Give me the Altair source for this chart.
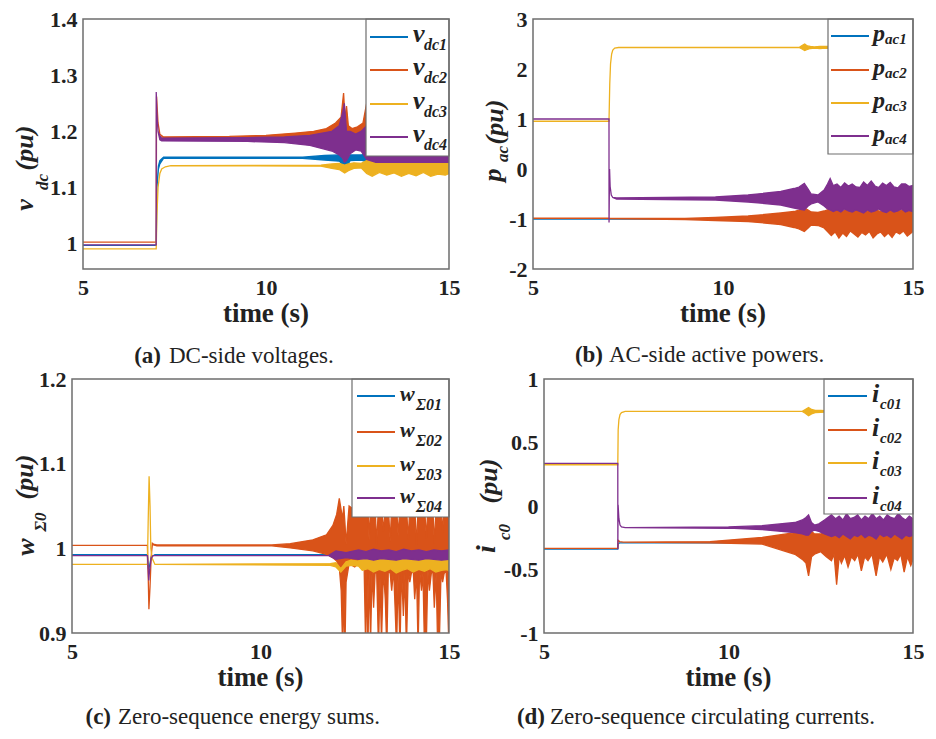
import altair as alt
import pandas as pd

FONT = "Liberation Serif"
INK = "#222222"
FRAME = "#6e6e6e"
COLORS = ["#0072BD", "#D95319", "#EDB120", "#7E2F8E"]

# ---------------- panel (a): DC-side voltages ----------------
A_T1 = [5, 7.0, 7.02, 7.06, 7.1, 7.2, 11.0, 11.6, 12.0, 12.12, 12.2, 12.3, 12.6, 12.8, 13.5, 14.2, 15]
A_LO1 = [0.997, 0.997, 1.10, 1.133, 1.142, 1.152, 1.152, 1.149, 1.147, 1.14, 1.138, 1.148, 1.149, 1.145, 1.146, 1.145, 1.146]
A_HI1 = [0.997, 0.997, 1.10, 1.138, 1.148, 1.154, 1.154, 1.157, 1.158, 1.152, 1.15, 1.158, 1.158, 1.16, 1.158, 1.16, 1.158]

A_T2 = [5, 7.0, 7.01, 7.05, 7.1, 7.2, 9.0, 10.0, 10.8, 11.3, 11.65, 11.9, 12.05, 12.12, 12.16, 12.2, 12.25, 12.35, 12.5, 12.65, 12.75, 13.0, 15]
A_HI2 = [1.003, 1.003, 1.262, 1.215, 1.195, 1.19, 1.191, 1.193, 1.197, 1.2, 1.205, 1.215, 1.225, 1.268, 1.22, 1.245, 1.21, 1.205, 1.208, 1.215, 1.25, 1.24, 1.24]
A_LO2 = [1.003, 1.003, 1.262, 1.215, 1.195, 1.188, 1.187, 1.185, 1.183, 1.18, 1.175, 1.17, 1.16, 1.15, 1.16, 1.16, 1.17, 1.175, 1.17, 1.165, 1.16, 1.155, 1.155]

A_T3 = [5, 7.0, 7.02, 7.05, 7.1, 7.15, 7.25, 7.4, 11.5, 11.8, 12.0, 12.15, 12.25, 12.4, 12.6, 12.75, 12.9, 13.1, 13.3, 13.5, 13.7, 13.9, 14.1, 14.3, 14.5, 14.7, 14.9, 15]
A_HI3 = [0.991, 0.991, 1.05, 1.1, 1.125, 1.133, 1.137, 1.139, 1.14, 1.142, 1.143, 1.14, 1.142, 1.144, 1.143, 1.148, 1.15, 1.147, 1.148, 1.15, 1.149, 1.148, 1.15, 1.149, 1.15, 1.148, 1.149, 1.148]
A_LO3 = [0.991, 0.991, 1.05, 1.1, 1.125, 1.133, 1.137, 1.139, 1.138, 1.134, 1.132, 1.126, 1.13, 1.134, 1.135, 1.125, 1.12, 1.127, 1.122, 1.126, 1.12, 1.125, 1.121, 1.127, 1.12, 1.124, 1.122, 1.125]

A_T4 = [5, 7.0, 7.001, 7.02, 7.05, 7.1, 7.15, 9.5, 10.5, 11.2, 11.8, 12.0, 12.1, 12.14, 12.2, 12.3, 12.45, 12.6, 12.75, 13.0, 14.0, 15]
A_HI4 = [0.998, 0.998, 1.27, 1.23, 1.2, 1.192, 1.188, 1.189, 1.19, 1.193, 1.2, 1.21, 1.235, 1.25, 1.2, 1.2, 1.195, 1.2, 1.21, 1.2, 1.2, 1.2]
A_LO4 = [0.998, 0.998, 1.27, 1.23, 1.2, 1.185, 1.183, 1.182, 1.18, 1.175, 1.165, 1.158, 1.152, 1.145, 1.148, 1.16, 1.167, 1.165, 1.15, 1.145, 1.145, 1.145]

# ---------------- panel (b): AC-side active powers ----------------
B_T1 = [5, 15]
B_LO1 = [-1.0, -1.0]
B_HI1 = [-1.0, -1.0]

B_T2 = [5, 7.0, 7.01, 9.0, 9.8, 10.66, 11.52, 11.87, 12.0, 12.14, 12.24, 12.32, 12.5, 12.66, 12.75, 12.85, 12.95, 13.05, 13.15, 13.25, 13.35, 13.45, 13.55, 13.65, 13.75, 13.85, 13.95, 14.05, 14.15, 14.25, 14.35, 14.45, 14.55, 14.65, 14.75, 14.85, 14.95, 15.0]
B_HI2 = [-0.985, -0.985, -0.99, -0.99, -0.97, -0.94, -0.88, -0.85, -0.82, -0.78, -0.82, -0.86, -0.87, -0.84, -0.82, -0.8, -0.84, -0.82, -0.85, -0.8, -0.83, -0.86, -0.8, -0.84, -0.82, -0.86, -0.8, -0.83, -0.85, -0.82, -0.8, -0.85, -0.82, -0.84, -0.81, -0.85, -0.82, -0.84]
B_LO2 = [-0.985, -0.985, -0.99, -1.01, -1.03, -1.05, -1.11, -1.17, -1.2, -1.25, -1.18, -1.12, -1.13, -1.18, -1.25, -1.33, -1.26, -1.38, -1.28, -1.35, -1.24, -1.3, -1.36, -1.27, -1.32, -1.25, -1.38, -1.3, -1.26, -1.35, -1.28, -1.37, -1.26, -1.3, -1.24, -1.34, -1.28, -1.25]

B_T3 = [5, 7.0, 7.02, 7.04, 7.07, 7.1, 7.15, 7.25, 12.0, 12.08, 12.15, 12.22, 12.3, 12.4, 12.55, 12.7, 12.85, 15.0]
B_HI3 = [0.955, 0.955, 1.7, 2.1, 2.3, 2.38, 2.42, 2.43, 2.43, 2.47, 2.5, 2.46, 2.45, 2.44, 2.45, 2.45, 2.45, 2.44]
B_LO3 = [0.955, 0.955, 1.7, 2.1, 2.3, 2.38, 2.42, 2.43, 2.43, 2.4, 2.37, 2.39, 2.41, 2.42, 2.41, 2.42, 2.41, 2.42]

B_T4 = [5, 7.0, 7.001, 7.015, 7.03, 7.06, 7.1, 7.2, 9.8, 10.66, 11.52, 11.87, 12.0, 12.14, 12.24, 12.32, 12.5, 12.66, 12.75, 12.82, 12.9, 13.0, 13.1, 13.2, 13.3, 13.4, 13.5, 13.6, 13.7, 13.8, 13.9, 14.0, 14.1, 14.2, 14.3, 14.4, 14.5, 14.6, 14.7, 14.8, 14.9, 15.0]
B_HI4 = [1.0, 1.0, -1.07, 0.0, -0.35, -0.52, -0.57, -0.58, -0.56, -0.52, -0.45, -0.39, -0.36, -0.29, -0.4, -0.5, -0.52, -0.42, -0.3, -0.19, -0.33, -0.3, -0.37, -0.28, -0.34, -0.3, -0.36, -0.37, -0.26, -0.33, -0.24, -0.34, -0.37, -0.28, -0.33, -0.27, -0.36, -0.38, -0.3, -0.3, -0.35, -0.33]
B_LO4 = [1.0, 1.0, -1.07, 0.0, -0.35, -0.52, -0.57, -0.6, -0.62, -0.66, -0.72, -0.78, -0.8, -0.82, -0.74, -0.7, -0.66, -0.74, -0.8, -0.82, -0.85, -0.82, -0.86, -0.8, -0.84, -0.86, -0.82, -0.85, -0.88, -0.82, -0.86, -0.84, -0.8, -0.85, -0.87, -0.82, -0.86, -0.84, -0.8, -0.86, -0.83, -0.85]

# ---------------- panel (c): zero-sequence energy sums ----------------
C_T1 = [5, 7.0, 7.03, 7.06, 7.1, 7.2, 15]
C_LO1 = [0.9925, 0.9925, 0.975, 0.98, 0.99, 0.9925, 0.9925]
C_HI1 = [0.9925, 0.9925, 0.975, 0.98, 0.99, 0.9925, 0.9925]

C_T2 = [5, 7.0, 7.02, 7.04, 7.07, 7.1, 7.13, 7.16, 7.25, 10.3, 10.79, 11.39, 11.75, 11.92, 12.02, 12.09, 12.14, 12.18, 12.21, 12.24, 12.27, 12.35, 12.5, 12.65, 12.75,
        12.79, 12.82, 12.85, 12.88, 12.92, 12.96, 13.0, 13.04, 13.08, 13.13, 13.17, 13.21, 13.26, 13.31, 13.35, 13.39, 13.44, 13.48, 13.53, 13.57,
        13.61, 13.65, 13.7, 13.74, 13.79, 13.83, 13.87, 13.92, 13.96, 14.0, 14.05, 14.09, 14.14, 14.18, 14.22, 14.27, 14.31, 14.35, 14.4, 14.44,
        14.48, 14.53, 14.57, 14.61, 14.66, 14.7, 14.74, 14.79, 14.83, 14.87, 14.92, 14.96, 15.0]
C_HI2 = [1.0035, 1.0035, 0.97, 0.928, 0.955, 0.99, 1.006, 1.005, 1.004, 1.004, 1.0055, 1.01, 1.016, 1.027, 1.04, 1.059, 1.045, 1.035, 1.05, 1.03, 1.005, 1.05, 1.045, 1.05, 1.045,
         1.05, 1.05, 1.048, 1.01, 1.05, 1.052, 1.05, 1.05, 1.005, 1.05, 1.05, 1.05, 1.02, 1.05, 1.05, 1.05, 1.008, 1.05, 1.05, 1.05,
         1.05, 1.015, 1.05, 1.05, 1.05, 1.05, 1.05, 1.01, 1.05, 1.05, 1.05, 1.05, 1.004, 1.05, 1.05, 1.05, 1.05, 1.05, 1.012, 1.05,
         1.05, 1.05, 1.05, 1.006, 1.05, 1.05, 1.05, 1.05, 1.018, 1.05, 1.05, 1.05, 1.05]
C_LO2 = [1.0035, 1.0035, 0.97, 0.928, 0.955, 0.99, 1.004, 1.004, 1.003, 1.003, 1.0005, 0.997, 0.993, 0.989, 0.985, 0.978, 0.95, 0.88, 0.95, 0.88, 0.96, 0.982, 0.978, 0.985, 0.975,
         0.88, 0.975, 0.88, 0.972, 0.89, 0.975, 0.93, 0.97, 0.975, 0.88, 0.965, 0.89, 0.975, 0.94, 0.88, 0.975, 0.97, 0.95, 0.975, 0.93,
         0.88, 0.97, 0.88, 0.975, 0.92, 0.97, 0.88, 0.975, 0.96, 0.97, 0.975, 0.94, 0.97, 0.88, 0.975, 0.95, 0.97, 0.88, 0.89, 0.975,
         0.95, 0.97, 0.975, 0.93, 0.97, 0.88, 0.88, 0.975, 0.96, 0.97, 0.975, 0.94, 0.88]

C_T3 = [5, 7.0, 7.02, 7.045, 7.07, 7.09, 7.13, 7.2, 11.85, 12.0, 12.13, 12.27, 12.4, 12.6,
        12.7, 12.85, 13.0, 13.15, 13.3, 13.45, 13.6, 13.75, 13.9, 14.05, 14.2, 14.35, 14.5, 14.65, 14.8, 14.95, 15.0]
C_HI3 = [0.981, 0.981, 1.03, 1.085, 1.05, 1.0, 0.988, 0.981, 0.982, 0.983, 0.976, 0.984, 0.986, 0.985,
         0.989, 0.987, 0.99, 0.988, 0.991, 0.987, 0.989, 0.99, 0.987, 0.989, 0.991, 0.988, 0.99, 0.987, 0.989, 0.99, 0.988]
C_LO3 = [0.981, 0.981, 1.03, 1.085, 1.05, 1.0, 0.988, 0.981, 0.98, 0.978, 0.972, 0.979, 0.98, 0.979,
         0.974, 0.976, 0.972, 0.975, 0.973, 0.976, 0.971, 0.974, 0.976, 0.972, 0.975, 0.973, 0.976, 0.972, 0.974, 0.975, 0.973]

C_T4 = [5, 7.0, 7.02, 7.035, 7.06, 7.1, 7.15, 11.8, 12.0, 12.27, 12.6, 12.8, 13.0, 13.2, 13.4, 13.6, 13.8, 14.0, 14.2, 14.4, 14.6, 14.8, 15.0]
C_HI4 = [0.9915, 0.9915, 0.975, 0.962, 0.975, 0.988, 0.9915, 0.9915, 0.997, 0.995, 0.998, 0.996, 0.999, 0.997, 0.998, 0.996, 0.999, 0.997, 0.998, 0.996, 0.998, 0.997, 0.998]
C_LO4 = [0.9915, 0.9915, 0.975, 0.962, 0.975, 0.988, 0.9915, 0.9915, 0.987, 0.989, 0.987, 0.988, 0.986, 0.988, 0.987, 0.986, 0.988, 0.987, 0.986, 0.988, 0.987, 0.986, 0.987]

# ---------------- panel (d): zero-sequence circulating currents ----------------
D_T1 = [5, 7.0, 7.01, 7.05, 15]
D_LO1 = [-0.34, -0.34, -0.30, -0.29, -0.29]
D_HI1 = [-0.34, -0.34, -0.30, -0.29, -0.29]

D_T2 = [5, 7.0, 7.01, 7.05, 7.15, 9.5, 10.91, 11.8, 12.0, 12.1, 12.17, 12.25, 12.33, 12.5, 12.65, 12.79, 12.86, 12.93, 13.0, 13.06, 13.15, 13.24, 13.33, 13.42, 13.51, 13.6, 13.69, 13.78, 13.89, 14.0, 14.09, 14.18, 14.29, 14.4, 14.49, 14.58, 14.67, 14.76, 14.85, 14.94, 15.0]
D_HI2 = [-0.333, -0.333, -0.27, -0.28, -0.285, -0.28, -0.248, -0.21, -0.2, -0.19, -0.19, -0.2, -0.22, -0.22, -0.21, -0.2, -0.19, -0.21, -0.2, -0.19, -0.21, -0.2, -0.19, -0.21, -0.2, -0.19, -0.22, -0.2, -0.19, -0.21, -0.2, -0.19, -0.21, -0.2, -0.19, -0.22, -0.2, -0.19, -0.21, -0.2, -0.2]
D_LO2 = [-0.333, -0.333, -0.27, -0.28, -0.285, -0.29, -0.30, -0.38, -0.42, -0.45, -0.55, -0.4, -0.38, -0.36, -0.4, -0.43, -0.38, -0.62, -0.4, -0.45, -0.39, -0.48, -0.4, -0.43, -0.38, -0.51, -0.4, -0.43, -0.38, -0.55, -0.4, -0.44, -0.38, -0.5, -0.41, -0.43, -0.38, -0.52, -0.4, -0.47, -0.42]

D_T3 = [5, 7.0, 7.01, 7.03, 7.06, 7.1, 7.2, 12.0, 12.08, 12.17, 12.25, 12.35, 12.5, 12.62, 15]
D_HI3 = [0.325, 0.325, 0.6, 0.68, 0.72, 0.735, 0.745, 0.745, 0.76, 0.775, 0.76, 0.752, 0.752, 0.75, 0.75]
D_LO3 = [0.325, 0.325, 0.6, 0.68, 0.72, 0.735, 0.745, 0.745, 0.73, 0.71, 0.725, 0.735, 0.738, 0.74, 0.74]

D_T4 = [5, 7.0, 7.001, 7.008, 7.03, 7.06, 7.1, 7.2, 10.0, 10.91, 11.8, 12.0, 12.1, 12.17, 12.25, 12.33, 12.45, 12.6, 12.79, 12.9,
        13.0, 13.1, 13.2, 13.3, 13.4, 13.5, 13.6, 13.7, 13.8, 13.9, 14.0, 14.1, 14.2, 14.3, 14.4, 14.5, 14.6, 14.7, 14.8, 14.9, 15.0]
D_HI4 = [0.335, 0.335, -0.34, 0.01, -0.1, -0.15, -0.165, -0.17, -0.165, -0.155, -0.13, -0.11, -0.09, -0.07, -0.13, -0.15, -0.14, -0.11, -0.07, -0.1,
         -0.08, -0.11, -0.06, -0.1, -0.09, -0.07, -0.11, -0.08, -0.1, -0.06, -0.1, -0.08, -0.11, -0.07, -0.09, -0.1, -0.06, -0.09, -0.11, -0.08, -0.1]
D_LO4 = [0.335, 0.335, -0.34, 0.01, -0.1, -0.15, -0.165, -0.17, -0.175, -0.185, -0.21, -0.22, -0.23, -0.23, -0.2, -0.19, -0.2, -0.22, -0.24, -0.23,
         -0.25, -0.22, -0.24, -0.26, -0.23, -0.24, -0.22, -0.25, -0.23, -0.24, -0.26, -0.22, -0.24, -0.23, -0.25, -0.22, -0.24, -0.26, -0.23, -0.24, -0.23]

# ---------------- axes / labels ----------------
X_TICKS = [5, 10, 15]
A_YTICKS = [1, 1.1, 1.2, 1.3, 1.4]
B_YTICKS = [-2, -1, 0, 1, 2, 3]
C_YTICKS = [0.9, 1, 1.1, 1.2]
D_YTICKS = [-1, -0.5, 0, 0.5, 1]

A_LEG = ["dc1", "dc2", "dc3", "dc4"]
B_LEG = ["ac1", "ac2", "ac3", "ac4"]
C_LEG = ["\u03a301", "\u03a302", "\u03a303", "\u03a304"]
D_LEG = ["c01", "c02", "c03", "c04"]

DUMMY = pd.DataFrame({"k": [0]})


def txt(s, x, y, size, bold=True, italic=False, align="left", angle=0):
    kw = dict(text=s, font=FONT, fontSize=size, color=INK, align=align, baseline="alphabetic")
    if bold:
        kw["fontWeight"] = "bold"
    if italic:
        kw["fontStyle"] = "italic"
    if angle:
        kw["angle"] = angle
    return alt.Chart(DUMMY).mark_text(**kw).encode(x=alt.value(x), y=alt.value(y))


def panel(series, VW, X0, H, ydom, yticks, leg, ytitle, caption, cap_dy):
    """VW: view width; X0: left edge of the plot frame inside the view."""
    rows = []
    for k, (ts, lo, hi) in enumerate(series):
        assert len(ts) == len(lo) == len(hi), (k, len(ts), len(lo), len(hi))
        for t, a, b in zip(ts, lo, hi):
            rows.append({"s": k, "t": t, "lo": a, "hi": b})
    df = pd.DataFrame(rows)
    xs = alt.Scale(domain=[5, 15], range=[X0, VW], nice=False, zero=False)
    ys = alt.Scale(domain=ydom, nice=False, zero=False)
    xax = alt.Axis(values=X_TICKS, title=None, labelFlush=False, labelPadding=8, format="~g")
    yax = alt.Axis(values=yticks, title=None, format="~g", labelPadding=6, offset=-X0,
                   labelExpr="replace(datum.label, '\u2212', '-')")
    layers = []
    for k in range(4):
        layers.append(
            alt.Chart(df).transform_filter(alt.datum.s == k)
            .mark_area(color=COLORS[k], stroke=COLORS[k], strokeWidth=1.3, opacity=1, clip=True)
            .encode(x=alt.X("t:Q", scale=xs, axis=xax),
                    y=alt.Y("lo:Q", scale=ys, axis=yax),
                    y2="hi:Q")
        )
    W = VW
    main, subs, box_l, box_b, lx0, lx1, mx, sx, lrows, mdy, sdy, mfs, sfs = leg
    layers.append(alt.Chart(DUMMY).mark_rect(fill="white", stroke=FRAME, strokeWidth=1.2)
                  .encode(x=alt.value(W + box_l), x2=alt.value(W), y=alt.value(0), y2=alt.value(box_b)))
    for k in range(4):
        yy = lrows[k]
        layers.append(alt.Chart(DUMMY).mark_rule(color=COLORS[k], strokeWidth=2)
                      .encode(x=alt.value(W + lx0), x2=alt.value(W + lx1), y=alt.value(yy)))
        layers.append(txt(main, W + mx, yy + mdy, mfs, italic=True))
        layers.append(txt(subs[k], W + sx, yy + sdy, sfs, italic=True))
    for s, x, y, fs in ytitle:
        layers.append(txt(s, X0 + x, y, fs, italic=True, align="center", angle=270))
    layers.append(txt("time (s)", (X0 + VW) / 2, H + 53, 27, align="center"))
    (cb, cbx), (cr, crx) = caption
    layers.append(txt(cb, X0 + cbx, H + cap_dy, 23, bold=True, align="right"))
    layers.append(txt(cr, X0 + crx, H + cap_dy, 23, bold=False, align="left"))
    layers.append(alt.Chart(DUMMY).mark_rect(fill="white", fillOpacity=0, stroke=FRAME, strokeWidth=1.5)
                  .encode(x=alt.value(X0), x2=alt.value(VW), y=alt.value(0), y2=alt.value(H)))
    return alt.layer(*layers).properties(width=VW, height=H)


# column 1 view width 377 (a starts 11 px in), column 2 view width 380 (d starts 11 px in)
H1, H2 = 250, 254
CW1, CW2 = 377, 380

pa = panel([(A_T1, A_LO1, A_HI1), (A_T2, A_LO2, A_HI2), (A_T3, A_LO3, A_HI3), (A_T4, A_LO4, A_HI4)],
           CW1, 11, H1, [0.955, 1.4], A_YTICKS,
           ("v", A_LEG, -83, 137, -79, -41, -36, -25, [18, 51, 85, 118], 5, 13, 26, 16),
           [("v", -50, 186, 26), ("dc", -35, 163, 17), ("(pu)", -50, 129, 26)],
           (("(a)", 78), ("DC-side voltages.", 86)), 94)

pb = panel([(B_T1, B_LO1, B_HI1), (B_T2, B_LO2, B_HI2), (B_T3, B_LO3, B_HI3), (B_T4, B_LO4, B_HI4)],
           CW2, 0, H1, [-2, 3], B_YTICKS,
           ("p", B_LEG, -85, 135, -82, -44, -40, -28, [17, 51, 84, 117], 5, 8, 24, 15),
           [("p", -32, 156, 26), ("ac", -25, 135, 17), ("(pu)", -30, 103, 26)],
           (("(b)", 70), ("AC-side active powers.", 76)), 93)

pc = panel([(C_T1, C_LO1, C_HI1), (C_T2, C_LO2, C_HI2), (C_T3, C_LO3, C_HI3), (C_T4, C_LO4, C_HI4)],
           CW1, 0, H2, [0.9, 1.2], C_YTICKS,
           ("w", C_LEG, -97, 138, -92, -54, -49, -33, [17, 53, 87, 119], 5, 14, 22, 16),
           [("w", -38, 168, 26), ("\u03a30", -26, 143, 17), ("(pu)", -39, 98, 26)],
           (("(c)", 39), ("Zero-sequence energy sums.", 46)), 91)

pd_ = panel([(D_T1, D_LO1, D_HI1), (D_T2, D_LO2, D_HI2), (D_T3, D_LO3, D_HI3), (D_T4, D_LO4, D_HI4)],
            CW2, 11, H2, [-1, 1], D_YTICKS,
            ("i", D_LEG, -89, 135, -85, -46, -41, -33, [17, 51, 84, 119], 6, 13, 26, 15),
            [("i", -49, 170, 28), ("c0", -34, 153, 17), ("(pu)", -47, 102, 26)],
            (("(d)", 1), ("Zero-sequence circulating currents.", 6)), 91)

chart = (
    alt.concat(pa, pb, pc, pd_, columns=2, spacing={"row": 110, "column": 84}, bounds="flush")
    .properties(padding={"left": 4, "right": 0, "top": 0, "bottom": 0})
    .configure_view(stroke=None)
    .configure_axis(grid=False, domain=False, ticks=False, labelFont=FONT, labelFontSize=22,
                    labelFontWeight="bold", labelColor=INK)
)

chart.save("out.html", embed_options={"renderer": "svg", "actions": False})
